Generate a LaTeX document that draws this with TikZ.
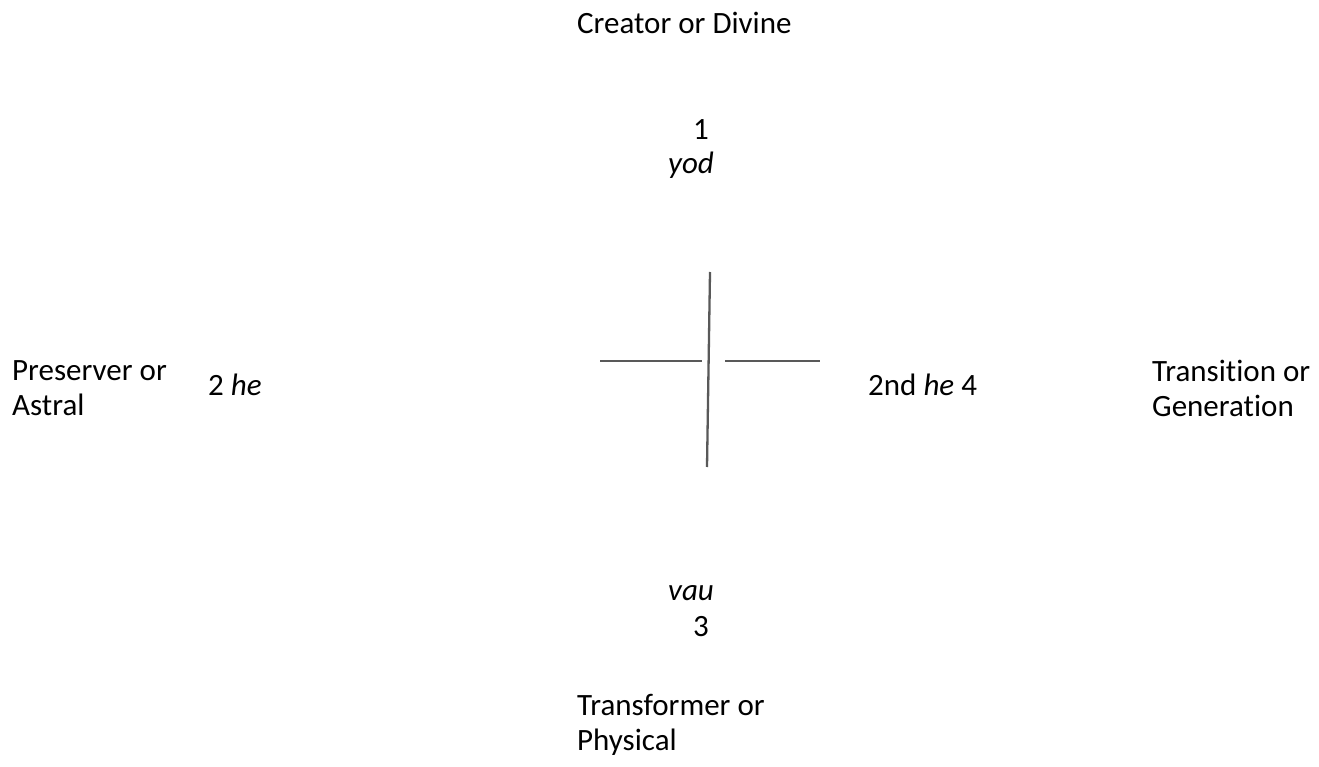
\documentclass[tikz,border=0pt]{standalone}
\usepackage{fontspec}
\setmainfont[Ligatures={NoCommon}]{Carlito}
\begin{document}
\begin{tikzpicture}[x=1pt,y=-1pt,
  lbl/.style={anchor=west,inner sep=0pt,font=\fontsize{31}{35}\selectfont,align=left},
  crossline/.style={draw=black!65,line width=2.3pt}]
\useasboundingbox (0,0) rectangle (1319,767);
\node[lbl] (creator) at (577,23) {Creator or Divine};
\node[lbl] (one) at (693,130) {1};
\node[lbl] (yod) at (668,165) {\itshape yod};
\node[lbl] (preserver) at (12,388) {Preserver or\\Astral};
\node[lbl] (he) at (208,385) {2 \textit{he}};
\node[lbl] (he2) at (868,385) {2nd \textit{he} 4};
\node[lbl] (transition) at (1152,388) {Transition or\\Generation};
\node[lbl] (vau) at (668,593) {\itshape vau};
\node[lbl] (three) at (693,627) {3};
\node[lbl] (transformer) at (577,725) {Transformer or\\Physical};
\coordinate (vt) at (710,272);
\coordinate (vb) at (707,467);
\coordinate (hl1) at (600,361);
\coordinate (hl2) at (702,361);
\coordinate (hr1) at (725,361);
\coordinate (hr2) at (820,361);
\draw[crossline] (vt) -- (vb);
\draw[crossline] (hl1) -- (hl2);
\draw[crossline] (hr1) -- (hr2);
\end{tikzpicture}
\end{document}
